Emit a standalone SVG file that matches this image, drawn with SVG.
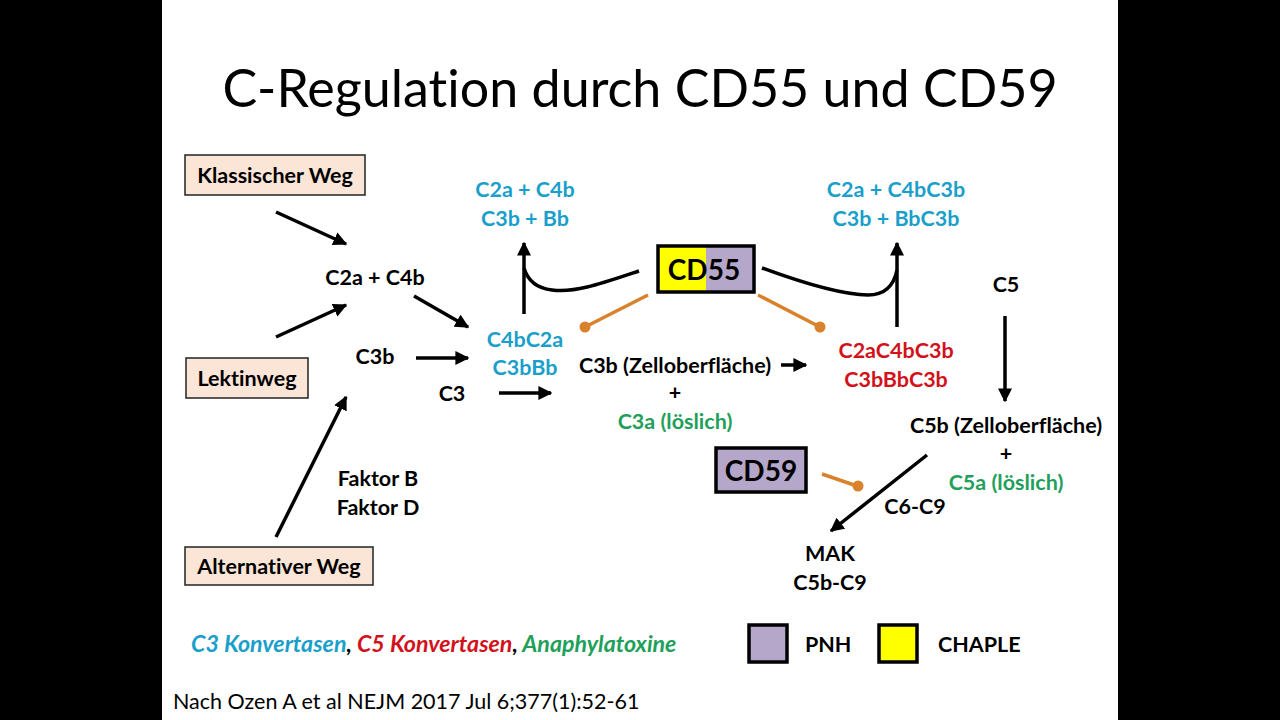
<svg xmlns="http://www.w3.org/2000/svg" width="1280" height="720" viewBox="0 0 1280 720">
<defs>
<style>
text{font-family:Lato,"Open Sans","Liberation Sans",sans-serif;font-variant-ligatures:none;}
.t{font-size:21.5px;font-weight:bold;text-anchor:middle;fill:#000;}
.b{fill:#1A9FCB;}
.r{fill:#D2111B;}
.g{fill:#1FA05A;}
.box{fill:#FBE5D6;stroke:#222;stroke-width:1.5;}
.ln{fill:none;stroke:#000;stroke-width:3.5;}
.inh{fill:none;stroke:#D9822B;stroke-width:3.5;}
.dot{fill:#D9822B;}
.big{font-size:28px;font-weight:bold;text-anchor:middle;}
.pur{fill:#B4A7C9;}
.yel{fill:#FFFF00;}
</style>
<marker id="ah" viewBox="0 0 10 10" refX="9" refY="5" markerWidth="4" markerHeight="4" orient="auto" markerUnits="strokeWidth">
<path d="M0,0 L10,5 L0,10 z" fill="#000"/>
</marker>
</defs>
<rect x="0" y="0" width="1280" height="720" fill="#000"/>
<rect x="162" y="0" width="956" height="720" fill="#fff"/>
<text x="640" y="107" style="font-size:52px;text-anchor:middle">C-Regulation durch CD55 und CD59</text>

<g id="klassisch"><rect class="box" x="185" y="155" width="180" height="40"/><text class="t" x="275" y="183">Klassischer Weg</text></g>
<g id="lektin"><rect class="box" x="186" y="358" width="122" height="40"/><text class="t" x="247" y="386">Lektinweg</text></g>
<g id="alternativ"><rect class="box" x="185" y="547" width="188" height="38"/><text class="t" x="279" y="574">Alternativer Weg</text></g>

<g id="c2a_c4b"><text class="t" x="375" y="285">C2a + C4b</text></g>
<g id="c3b"><text class="t" x="375" y="364">C3b</text></g>
<g id="c3"><text class="t" x="452" y="401">C3</text></g>
<g id="faktor"><text class="t" x="378" y="486">Faktor B</text><text class="t" x="378" y="515">Faktor D</text></g>

<g id="c3konv"><text class="t b" x="525" y="347">C4bC2a</text><text class="t b" x="525" y="375">C3bBb</text></g>
<g id="c3konv_top"><text class="t b" x="525" y="197">C2a + C4b</text><text class="t b" x="525" y="226">C3b + Bb</text></g>
<g id="c5konv_top"><text class="t b" x="896" y="197">C2a + C4bC3b</text><text class="t b" x="896" y="226">C3b + BbC3b</text></g>
<g id="c5konv"><text class="t r" x="896" y="358">C2aC4bC3b</text><text class="t r" x="896" y="387">C3bBbC3b</text></g>
<g id="c3b_surface"><text class="t" x="675" y="373">C3b (Zelloberfläche)</text><text class="t" x="675" y="400">+</text><text class="t g" x="675" y="429">C3a (löslich)</text></g>
<g id="c5"><text class="t" x="1006" y="292">C5</text></g>
<g id="c5b_surface"><text class="t" x="1006" y="433">C5b (Zelloberfläche)</text><text class="t" x="1006" y="461">+</text><text class="t g" x="1006" y="490">C5a (löslich)</text></g>
<g id="c6c9"><text class="t" x="915" y="514">C6-C9</text></g>
<g id="mak"><text class="t" x="830" y="561">MAK</text><text class="t" x="830" y="590">C5b-C9</text></g>

<g id="cd55">
<rect class="yel" x="658" y="246" width="48" height="46"/>
<rect class="pur" x="706" y="246" width="48" height="46"/>
<rect x="658" y="246" width="96" height="46" fill="none" stroke="#000" stroke-width="3.5"/>
<text class="big" x="704" y="280">CD55</text>
</g>
<g id="cd59">
<rect class="pur" x="716" y="448" width="90" height="44" stroke="#000" stroke-width="3.5"/>
<text class="big" x="761" y="481">CD59</text>
</g>

<g id="connectors">
<line class="ln" x1="276" y1="212" x2="346" y2="244" marker-end="url(#ah)"/>
<line class="ln" x1="276" y1="337" x2="346" y2="305" marker-end="url(#ah)"/>
<line class="ln" x1="276" y1="537" x2="346" y2="397" marker-end="url(#ah)"/>
<line class="ln" x1="414" y1="296" x2="468" y2="327" marker-end="url(#ah)"/>
<line class="ln" x1="416" y1="358" x2="468" y2="358" marker-end="url(#ah)"/>
<line class="ln" x1="499" y1="393" x2="551" y2="393" marker-end="url(#ah)"/>
<line class="ln" x1="781" y1="365" x2="806" y2="365" marker-end="url(#ah)"/>
<line class="ln" x1="524" y1="314" x2="524" y2="243" marker-end="url(#ah)"/>
<line class="ln" x1="897" y1="327" x2="897" y2="243" marker-end="url(#ah)"/>
<path class="ln" d="M639,271 C600,284 575,293 552,290 C534,288 527,278 524,268"/>
<path class="ln" d="M762,268 C800,282 840,295 868,295 C886,295 894,285 897,270"/>
<line class="ln" x1="1005" y1="316" x2="1005" y2="401" marker-end="url(#ah)"/>
<line class="ln" x1="927" y1="455" x2="831" y2="531" marker-end="url(#ah)"/>
<line class="inh" x1="648" y1="295" x2="585" y2="327"/><circle class="dot" cx="585" cy="327" r="5.5"/>
<line class="inh" x1="758" y1="295" x2="820" y2="327"/><circle class="dot" cx="820" cy="327" r="5.5"/>
<line class="inh" x1="822" y1="474" x2="857" y2="486"/><circle class="dot" cx="858" cy="486" r="5.5"/>
</g>

<g id="legend">
<text x="191" y="652" style="font-size:23.2px;font-style:italic;font-weight:bold"><tspan class="b">C3 Konvertasen</tspan><tspan>, </tspan><tspan class="r">C5 Konvertasen</tspan><tspan>, </tspan><tspan class="g">Anaphylatoxine</tspan></text>
<rect class="pur" x="749" y="625" width="38" height="37" stroke="#000" stroke-width="3.5"/>
<text class="t" x="805" y="652" style="text-anchor:start">PNH</text>
<rect class="yel" x="879" y="625" width="38" height="37" stroke="#000" stroke-width="3.5"/>
<text class="t" x="938" y="652" style="text-anchor:start">CHAPLE</text>
</g>
<text x="173" y="709" style="font-size:21.5px">Nach Ozen A et al NEJM 2017 Jul 6;377(1):52-61</text>
</svg>
